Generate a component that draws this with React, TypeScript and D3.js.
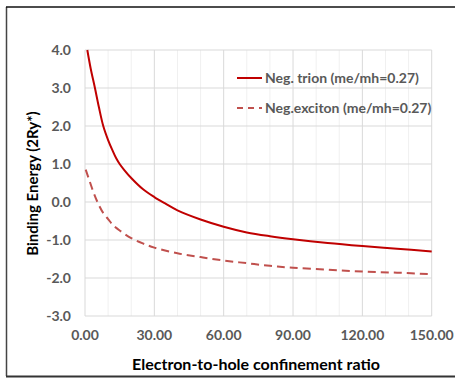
import React from "react";
import * as d3 from "d3";

const trionX = [1, 2.5, 4.3, 6, 7.9, 10, 11.8, 13.5, 15, 17, 20, 25, 30, 35, 40, 50, 60, 70, 80, 90, 105, 120, 135, 150];
const trionY = [4.0, 3.5, 3.0, 2.5, 2.0, 1.63, 1.37, 1.15, 1.0, 0.84, 0.63, 0.34, 0.13, -0.05, -0.22, -0.46, -0.65, -0.8, -0.9, -0.98, -1.08, -1.16, -1.23, -1.3];

const excitonX = [0.3, 2, 4, 6, 8, 10, 12, 15, 20, 25, 30, 40, 50, 60, 70, 80, 90, 105, 120, 135, 150];
const excitonY = [0.85, 0.55, 0.2, -0.08, -0.3, -0.45, -0.6, -0.75, -0.95, -1.09, -1.2, -1.35, -1.45, -1.54, -1.61, -1.68, -1.73, -1.78, -1.83, -1.86, -1.9];

const xTicks = [0, 30, 60, 90, 120, 150];
const xMinorTicks = [10, 20, 40, 50, 70, 80, 100, 110, 130, 140];
const yTicks = [4, 3, 2, 1, 0, -1, -2, -3];

const seriesNames = ["Neg. trion (me/mh=0.27)", "Neg.exciton (me/mh=0.27)"];
const xTitle = "Electron-to-hole confinement ratio";
const yTitle = "Binding Energy (2Ry*)";

const FONT = "Lato, 'Open Sans', sans-serif";

export default function App() {
  const W = 455, H = 378;
  const x = d3.scaleLinear().domain([0, 150]).range([85, 431.7]);
  const y = d3.scaleLinear().domain([-3, 4]).range([316, 50]);
  const line = d3
    .line<[number, number]>()
    .x((d) => x(d[0]))
    .y((d) => y(d[1]))
    .curve(d3.curveCatmullRom.alpha(0.5));
  const trion = trionX.map((v, i) => [v, trionY[i]] as [number, number]);
  const exciton = excitonX.map((v, i) => [v, excitonY[i]] as [number, number]);

  return (
    <svg
      width={W}
      height={H}
      style={{ position: "absolute", left: 0, top: 0, background: "#fff" }}
      fontFamily={FONT}
    >
      <rect x={0} y={0} width={W} height={H} fill="#fff" />
      {/* outer border */}
      <line x1={6.5} y1={7} x2={6.5} y2={376} stroke="#444" strokeWidth={1.5} />
      <line x1={6} y1={7} x2={W} y2={7} stroke="#111" strokeWidth={1.5} />
      <line x1={6} y1={376.5} x2={W} y2={376.5} stroke="#333" strokeWidth={2} />

      {/* minor gridlines */}
      {xMinorTicks.map((t) => (
        <line key={"m" + t} x1={x(t)} x2={x(t)} y1={y(4)} y2={y(-3)} stroke="#f0f0f0" strokeWidth={1} />
      ))}
      {/* major gridlines */}
      {xTicks.map((t) => (
        <line key={"x" + t} x1={x(t)} x2={x(t)} y1={y(4)} y2={y(-3)} stroke="#d9d9d9" strokeWidth={1} />
      ))}
      {yTicks.map((t) => (
        <line key={"y" + t} x1={x(0)} x2={x(150)} y1={y(t)} y2={y(t)} stroke="#d9d9d9" strokeWidth={1} />
      ))}

      {/* tick labels */}
      {yTicks.map((t) => (
        <text key={"yl" + t} x={71} y={y(t)} dy="0.35em" textAnchor="end" fontSize={14} fontWeight="bold" fill="#595959">
          {t.toFixed(1)}
        </text>
      ))}
      {xTicks.map((t) => (
        <text key={"xl" + t} x={x(t)} y={335} dy="0.35em" textAnchor="middle" fontSize={14} fontWeight="bold" fill="#595959">
          {t.toFixed(2)}
        </text>
      ))}

      {/* series */}
      <path d={line(exciton) || ""} fill="none" stroke="#c0504d" strokeWidth={2} strokeDasharray="8,5" />
      <path d={line(trion) || ""} fill="none" stroke="#c00000" strokeWidth={2} />

      {/* legend */}
      <line x1={237} x2={262} y1={78} y2={78} stroke="#c00000" strokeWidth={2} />
      <text x={265} y={78} dy="0.35em" fontSize={14} fontWeight="bold" fill="#595959">
        {seriesNames[0]}
      </text>
      <line x1={237} x2={262} y1={108} y2={108} stroke="#c0504d" strokeWidth={2} strokeDasharray="6,5" />
      <text x={265} y={108} dy="0.35em" fontSize={14} fontWeight="bold" fill="#595959">
        {seriesNames[1]}
      </text>

      {/* axis titles */}
      <text x={256} y={364} dy="0.35em" textAnchor="middle" fontSize={16} fontWeight="bold" fill="#000">
        {xTitle}
      </text>
      <text
        transform={`translate(33,183.5) rotate(-90)`}
        dy="0.35em"
        textAnchor="middle"
        fontSize={15}
        fontWeight="bold"
        fill="#000"
      >
        {yTitle}
      </text>
    </svg>
  );
}
